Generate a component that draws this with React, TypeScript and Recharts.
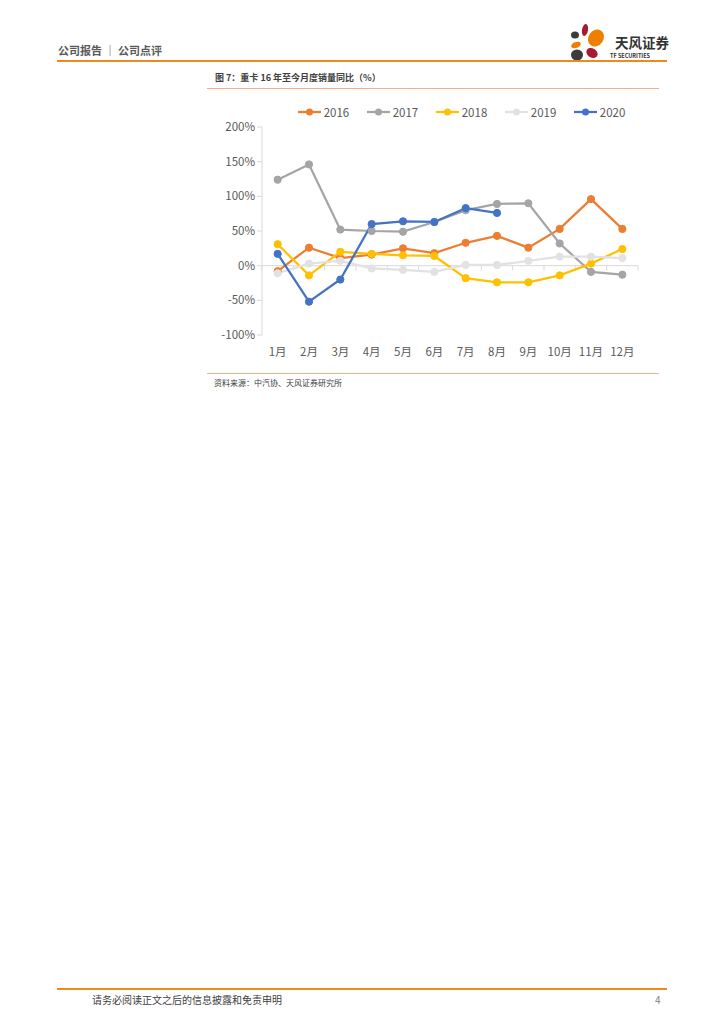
import React from "react";
import { LineChart, Line, XAxis, YAxis, Legend, ReferenceLine } from "recharts";

const months = ["1月", "2月", "3月", "4月", "5月", "6月", "7月", "8月", "9月", "10月", "11月", "12月"];
const s2016 = [-8, 26, 11, 16, 25, 18, 33, 43, 26, 53, 96, 53];
const s2017 = [124, 146, 52, 50, 49, 63, 80, 89, 90, 32, -9, -13];
const s2018 = [31, -14, 20, 17, 15, 14, -18, -24, -24, -14, 3, 24];
const s2019 = [-11, 3, 7, -4, -6, -9, 1, 1, 7, 13, 13, 11];
const s2020: (number | null)[] = [17, -52, -20, 60, 64, 63, 83, 76, null, null, null, null];
const yTicks = [-100, -50, 0, 50, 100, 150, 200];

const seriesMeta = [
  { key: "2016", color: "#ED7D31" },
  { key: "2017", color: "#A5A5A5" },
  { key: "2018", color: "#FFC000" },
  { key: "2019", color: "#E2E2E2" },
  { key: "2020", color: "#4472C4" },
];

const data = months.map((m, i) => ({
  month: m,
  "2016": s2016[i],
  "2017": s2017[i],
  "2018": s2018[i],
  "2019": s2019[i],
  "2020": s2020[i],
}));

const FONT = '"Noto Sans CJK SC", "Noto Sans", sans-serif';

const LegendContent = () => (
  <div style={{ display: "flex", justifyContent: "center", gap: 17.5, fontFamily: FONT, fontSize: 11.5, color: "#595959", paddingLeft: 78 }}>
    {seriesMeta.map((s) => (
      <div key={s.key} style={{ display: "flex", alignItems: "center" }}>
        <svg width={23} height={10} style={{ marginRight: 3 }}>
          <line x1={0} y1={5} x2={23} y2={5} stroke={s.color} strokeWidth={2.25} />
          <circle cx={11.5} cy={5} r={3.5} fill={s.color} />
        </svg>
        <span>{s.key}</span>
      </div>
    ))}
  </div>
);

const ZeroLine = (props: any) => {
  const { x1, y1, x2 } = props;
  const n = months.length;
  const step = (x2 - x1) / n;
  const ticks = [];
  for (let i = 0; i <= n; i++) {
    const x = x1 + step * i;
    ticks.push(<line key={i} x1={x} y1={y1} x2={x} y2={y1 + 5} stroke="#D9D9D9" strokeWidth={1} />);
  }
  return (
    <g>
      <line x1={x1} y1={y1} x2={x2} y2={y1} stroke="#D9D9D9" strokeWidth={1} />
      {ticks}
    </g>
  );
};

const Logo = () => (
  <svg width={110} height={42} style={{ position: "absolute", left: 566, top: 22 }}>
    <ellipse cx={19} cy={8} rx={3} ry={6} fill="#A6192E" transform="rotate(10 19 8)" />
    <ellipse cx={9} cy={13} rx={4} ry={3.5} fill="#3C3C3C" />
    <ellipse cx={30} cy={16} rx={7.5} ry={9} fill="#EE7F00" transform="rotate(35 30 16)" />
    <ellipse cx={10} cy={23} rx={5} ry={3} fill="#EE7F00" transform="rotate(-20 10 23)" />
    <ellipse cx={11} cy={33} rx={6} ry={5.5} fill="#3C3C3C" />
    <ellipse cx={26} cy={31} rx={6} ry={4.5} fill="#A6192E" transform="rotate(30 26 31)" />
    <text x={49} y={26} fontFamily={FONT} fontSize={13.5} fontWeight={700} fill="#333">天风证券</text>
    <text x={44} y={36} fontFamily={FONT} fontSize={5.5} fontWeight={700} fill="#333">TF SECURITIES</text>
  </svg>
);

export default function App() {
  return (
    <div style={{ position: "absolute", left: 0, top: 0, width: 724, height: 1024, background: "#fff", fontFamily: FONT }}>
      <div style={{ position: "absolute", left: 58, top: 42, fontSize: 11, fontWeight: 700, color: "#595959", whiteSpace: "nowrap" }}>
        公司报告 ｜ 公司点评
      </div>
      <Logo />
      <div style={{ position: "absolute", left: 57, top: 60, width: 610, height: 2, background: "#EE8A1C" }} />

      <div style={{ position: "absolute", left: 215, top: 71, fontSize: 9, fontWeight: 700, color: "#404040", whiteSpace: "nowrap" }}>
        图 7：重卡 16 年至今月度销量同比（%）
      </div>
      <div style={{ position: "absolute", left: 207, top: 88, width: 452, height: 1, background: "#F4B183" }} />

      <div style={{ position: "absolute", left: 207, top: 95 }}>
        <LineChart width={452} height={278} data={data} margin={{ top: 12, right: 21, bottom: 0, left: 0 }}>
          <Legend verticalAlign="top" height={20} content={<LegendContent />} wrapperStyle={{ top: 9 }} />
          <XAxis
            dataKey="month"
            scale="band"
            axisLine={false}
            tickLine={false}
            tick={{ fill: "#595959", fontSize: 11.5, fontFamily: FONT }}
            tickMargin={7}
            height={38}
            interval={0}
          />
          <YAxis
            domain={[-100, 200]}
            ticks={yTicks}
            width={55}
            tickFormatter={(v: number) => `${v}%`}
            axisLine={{ stroke: "#D9D9D9" }}
            tickLine={{ stroke: "#D9D9D9" }}
            tickSize={5}
            tick={{ fill: "#595959", fontSize: 11.5, fontFamily: FONT }}
          />
          <ReferenceLine y={0} shape={<ZeroLine />} ifOverflow="extendDomain" />
          {seriesMeta.map((s) => (
            <Line
              key={s.key}
              dataKey={s.key}
              stroke={s.color}
              strokeWidth={2.25}
              dot={{ r: 3.6, fill: s.color, stroke: s.color, strokeWidth: 1 }}
              activeDot={false}
              isAnimationActive={false}
              connectNulls={false}
            />
          ))}
        </LineChart>
      </div>

      <div style={{ position: "absolute", left: 207, top: 373, width: 452, height: 1, background: "#F4B183" }} />
      <div style={{ position: "absolute", left: 214, top: 377, fontSize: 8, color: "#404040", whiteSpace: "nowrap" }}>
        资料来源：中汽协、天风证券研究所
      </div>

      <div style={{ position: "absolute", left: 57, top: 988, width: 610, height: 2, background: "#EE8A1C" }} />
      <div style={{ position: "absolute", left: 92, top: 992, fontSize: 10, color: "#404040", whiteSpace: "nowrap" }}>
        请务必阅读正文之后的信息披露和免责申明
      </div>
      <div style={{ position: "absolute", left: 655, top: 992, fontSize: 10, color: "#808080" }}>4</div>
    </div>
  );
}
